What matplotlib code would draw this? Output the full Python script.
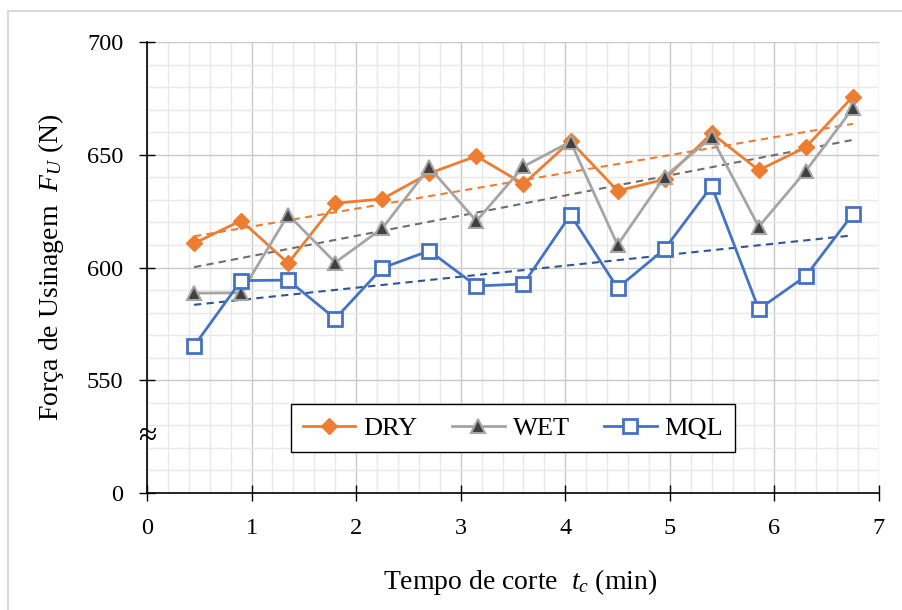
import numpy as np
import matplotlib.pyplot as plt
from matplotlib.patches import Rectangle
from matplotlib.ticker import MultipleLocator

plt.rcParams['font.family'] = ['Liberation Serif', 'DejaVu Serif']
plt.rcParams['mathtext.fontset'] = 'custom'
plt.rcParams['mathtext.it'] = 'Liberation Serif:italic'
plt.rcParams['mathtext.rm'] = 'Liberation Serif'

t = [0.45, 0.90, 1.35, 1.80, 2.25, 2.70, 3.15, 3.60, 4.05, 4.50, 4.95, 5.40, 5.85, 6.30, 6.75]
dry = [610.7, 620.8, 601.9, 628.5, 630.4, 641.8, 649.4, 637.0, 656.0, 634.0, 639.1, 659.5, 643.2, 653.3, 675.8]
wet = [588.6, 588.8, 623.4, 602.2, 617.4, 644.4, 620.6, 644.8, 655.8, 610.0, 640.3, 657.7, 618.1, 642.8, 670.6]
mql = [565.2, 594.2, 594.4, 577.3, 599.8, 607.4, 591.8, 592.7, 623.4, 590.9, 608.2, 636.1, 581.5, 596.2, 623.7]

y_ticks = [500, 550, 600, 650, 700]
y_labels = ['0', '550', '600', '650', '700']

fig = plt.figure(figsize=(9.03, 6.10), dpi=100)
# chart-area border (runs off the right and bottom edges)
fig.patches.append(Rectangle((8/903, -0.05), 1.0, 1.05 - 11/610, transform=fig.transFigure,
                             fill=False, edgecolor='#D9D9D9', linewidth=1.5))
ax = fig.add_axes([147/903, 1-493/610, 732/903, 451/610])

x = np.array(t)
for y, c, tc, m, kw in [
        (dry, '#ED7D31', '#ED7D31', 'D', dict(markerfacecolor='#ED7D31', markeredgecolor='#ED7D31', markersize=8.5)),
        (wet, '#A5A5A5', '#6E6E6E', '^', dict(markerfacecolor='#404040', markeredgecolor='#A5A5A5', markersize=9.5, markeredgewidth=1.5)),
        (mql, '#4472C4', '#2F5597', 's', dict(markerfacecolor='white', markeredgecolor='#4472C4', markersize=10, markeredgewidth=2))]:
    ax.plot(x, y, color=c, marker=m, linewidth=2, zorder=3, **kw)
    p = np.polyfit(x, y, 1)
    ax.plot(x[[0, -1]], np.polyval(p, x[[0, -1]]), color=tc, linestyle=(0, (3.5, 2.5)), linewidth=1.5, zorder=2)

ax.set_xlim(0, 7)
ax.set_ylim(500, 700)
ax.set_yticks(y_ticks)
ax.set_yticklabels(y_labels)
ax.xaxis.set_major_locator(MultipleLocator(1))
ax.xaxis.set_minor_locator(MultipleLocator(0.2))
ax.yaxis.set_minor_locator(MultipleLocator(10))
ax.grid(which='major', color='#C8C8C8', linewidth=1)
ax.grid(which='minor', color='#E8E8E8', linewidth=1)
ax.set_axisbelow(True)
ax.tick_params(which='major', direction='inout', length=12, width=1, labelsize=17.5)
ax.tick_params(which='minor', length=0)
ax.tick_params(axis='x', pad=12)
ax.tick_params(axis='y', pad=11)
for s in ['top', 'right']:
    ax.spines[s].set_visible(False)
for s in ['left', 'bottom']:
    ax.spines[s].set_linewidth(1.2)

ax.text(0, 525, '≈', transform=ax.get_yaxis_transform(), ha='center', va='center', fontsize=24)

ax.set_xlabel('Tempo de corte  $t_c$ (min)', fontsize=20)
ax.set_ylabel('Força de Usinagem  $F_U$ (N)', fontsize=20)
ax.xaxis.set_label_coords(0.51, -0.165)
ax.yaxis.set_label_coords(-0.111, 0.5)

handles = ax.get_lines()[0::2]
leg = ax.legend(handles, ['DRY', 'WET', 'MQL'], ncol=3, loc='center', bbox_to_anchor=(0.5, 0.144),
                fontsize=19, frameon=True, fancybox=False, edgecolor='black', framealpha=1,
                handlelength=2.0, handletextpad=0.3, columnspacing=1.3, borderpad=0.45)
leg.get_frame().set_linewidth(1)

fig.savefig('out.png', dpi=100)
